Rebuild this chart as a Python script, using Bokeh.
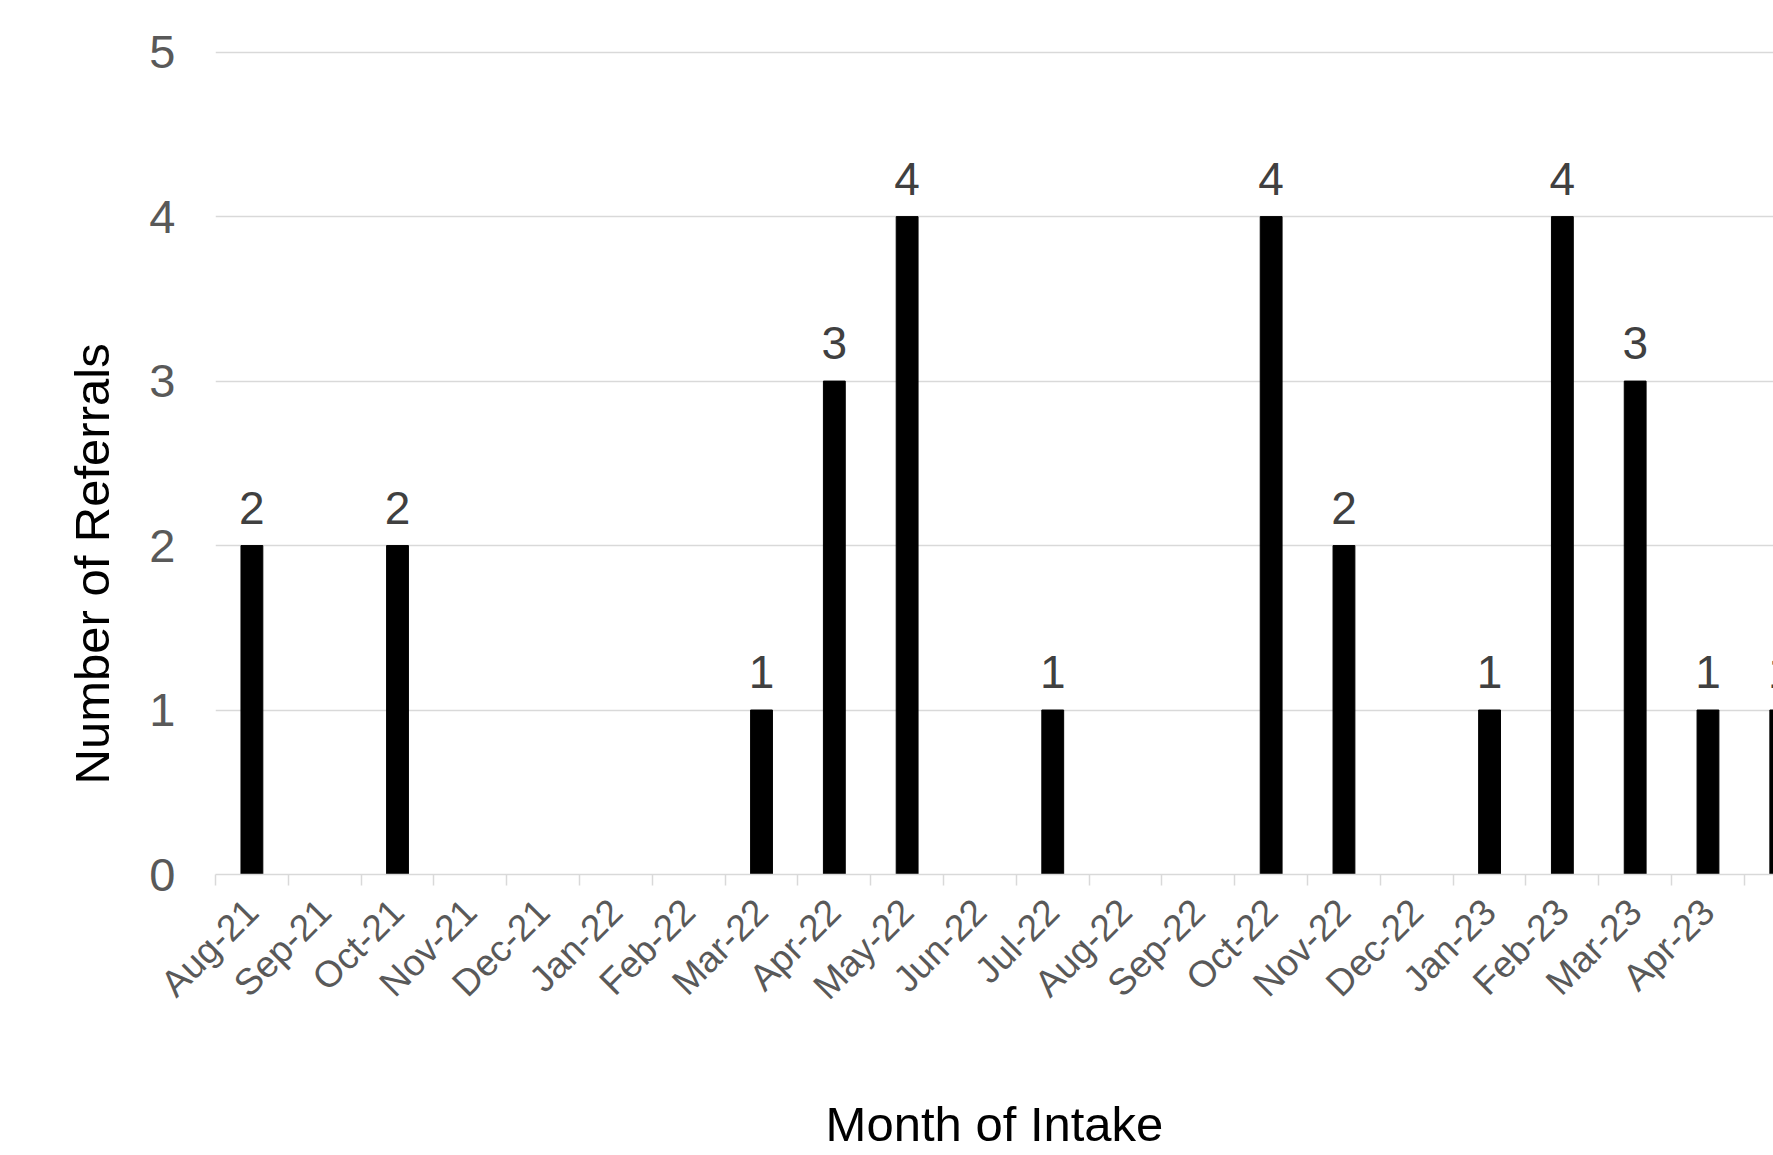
import math
from bokeh.plotting import figure
from bokeh.models import Range1d, FixedTicker, ColumnDataSource, Title
from bokeh.core.properties import value
from bokeh.embed import file_html
from bokeh.resources import INLINE

months = ["Aug-21", "Sep-21", "Oct-21", "Nov-21", "Dec-21", "Jan-22", "Feb-22",
          "Mar-22", "Apr-22", "May-22", "Jun-22", "Jul-22", "Aug-22", "Sep-22",
          "Oct-22", "Nov-22", "Dec-22", "Jan-23", "Feb-23", "Mar-23", "Apr-23",
          "May-23"]
referrals = [2, 0, 2, 0, 0, 0, 0, 1, 3, 4, 0, 1, 0, 0, 4, 2, 0, 1, 4, 3, 1, 1]
y_ticks = [0, 1, 2, 3, 4, 5]

FONT = "Liberation Sans"
n = len(months)
xs = list(range(n))

src = ColumnDataSource(dict(x=xs, y=referrals))
lab_x = [x for x, v in zip(xs, referrals) if v > 0]
lab_y = [v for v in referrals if v > 0]
lab_src = ColumnDataSource(dict(x=lab_x, y=lab_y, t=[str(v) for v in lab_y]))

p = figure(frame_width=1558, frame_height=824,
           min_border_left=215, min_border_right=0, min_border_top=50,
           min_border_bottom=281,
           x_range=Range1d(-0.5, 20.9), y_range=Range1d(0, 5.01),
           output_backend="svg", toolbar_location=None)
p.outline_line_color = None
p.background_fill_color = "white"
p.border_fill_color = "white"

p.xgrid.grid_line_color = None
p.ygrid.grid_line_color = "#d9d9d9"
p.ygrid.grid_line_width = 1.5

p.vbar(x="x", top="y", width=0.3, fill_color="black", line_color="black", source=src)
p.text(x="x", y="y", text="t", source=lab_src, text_align="center",
       text_baseline="alphabetic", y_offset=-38, text_font=value(FONT),
       text_font_size="46px", text_color="#404040")

xa = p.xaxis[0]
xa.ticker = FixedTicker(ticks=xs, minor_ticks=[i - 0.5 for i in range(n + 1)])
xa.major_label_overrides = {i: m for i, m in enumerate(months)}
xa.major_label_orientation = math.pi / 4
xa.axis_line_color = "#d9d9d9"
xa.axis_line_width = 1.5
xa.major_tick_line_color = None
xa.major_tick_out = 11
xa.major_tick_in = 0
xa.minor_tick_line_color = "#d9d9d9"
xa.minor_tick_line_width = 1.5
xa.minor_tick_out = 11
xa.minor_tick_in = 0
xa.major_label_standoff = 20
xa.major_label_text_font = FONT
xa.major_label_text_font_size = "37px"
xa.major_label_text_color = "#595959"
xa.axis_label = "Month of Intake"
xa.axis_label_text_font = FONT
xa.axis_label_text_font_size = "49px"
xa.axis_label_text_font_style = "normal"
xa.axis_label_text_color = "black"
xa.axis_label_standoff = 72

ya = p.yaxis[0]
ya.ticker = FixedTicker(ticks=y_ticks, minor_ticks=[])
ya.axis_line_color = None
ya.major_tick_line_color = None
ya.minor_tick_line_color = None
ya.major_tick_out = 0
ya.major_tick_in = 0
ya.major_label_standoff = 40
ya.major_label_text_font = FONT
ya.major_label_text_font_size = "47px"
ya.major_label_text_color = "#595959"

ytitle = Title(text="Number of Referrals", align="left", offset=90,
               text_font=FONT, text_font_size="49px", text_font_style="normal",
               text_color="black", standoff=55)
p.add_layout(ytitle, "left")

open("out.html", "w").write(file_html(p, INLINE))
